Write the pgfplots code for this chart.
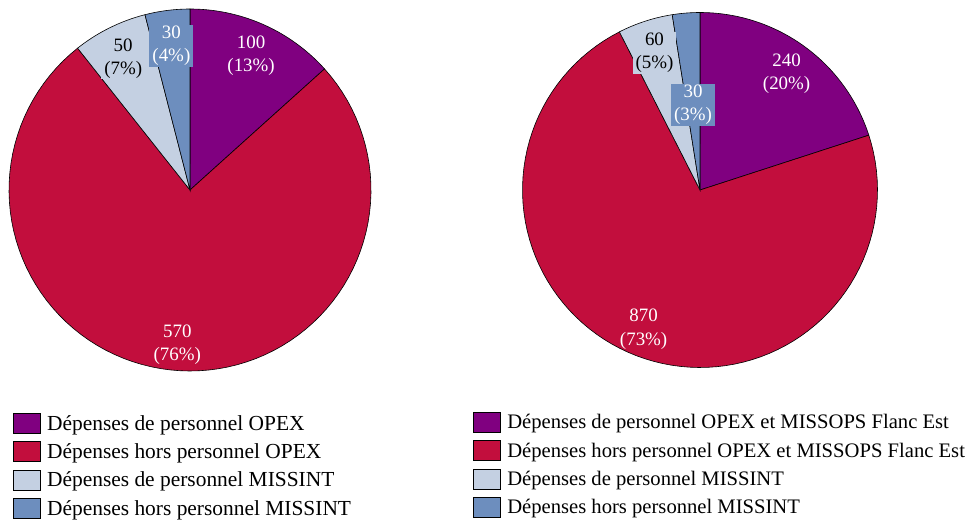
\documentclass[border=0pt]{standalone}
\usepackage{fontspec}
\setmainfont{Liberation Serif}
\usepackage{pgfplots}
\usepackage{pgfplotstable}
\pgfplotsset{compat=1.18}

\definecolor{cPurple}{HTML}{800080}
\definecolor{cRed}{HTML}{C20E3D}
\definecolor{cLight}{HTML}{C4D0E2}
\definecolor{cBlue}{HTML}{6D8EBE}

% values of the two pies (same slice order as the legends)
\pgfplotstableread{
val
100
570
50
30
}\leftdata
\pgfplotstableread{
val
240
870
60
30
}\rightdata

\newcommand{\getval}[3]{\pgfplotstablegetelem{#2}{val}\of{#1}\global\let#3\pgfplotsretval}

% angles: start at 12 o'clock, clockwise
\getval{\leftdata}{0}\La \getval{\leftdata}{1}\Lb
\getval{\leftdata}{2}\Lc \getval{\leftdata}{3}\Ld
\pgfmathsetmacro\Lt{\La+\Lb+\Lc+\Ld}
\pgfmathsetmacro\LA{90-360*(\La/\Lt)}
\pgfmathsetmacro\LB{\LA-360*(\Lb/\Lt)}
\pgfmathsetmacro\LC{\LB-360*(\Lc/\Lt)}
\pgfmathsetmacro\LD{\LC-360*(\Ld/\Lt)}

\getval{\rightdata}{0}\Ra \getval{\rightdata}{1}\Rb
\getval{\rightdata}{2}\Rc \getval{\rightdata}{3}\Rd
\pgfmathsetmacro\Rt{\Ra+\Rb+\Rc+\Rd}
\pgfmathsetmacro\RA{90-360*(\Ra/\Rt)}
\pgfmathsetmacro\RB{\RA-360*(\Rb/\Rt)}
\pgfmathsetmacro\RC{\RB-360*(\Rc/\Rt)}
\pgfmathsetmacro\RD{\RC-360*(\Rd/\Rt)}

\newcommand{\lblfont}{\fontsize{19}{23.5}\selectfont}

\pgfplotsset{
  pie/.style={
    hide axis, scale only axis, clip=false,
    xmin=-1, xmax=1, ymin=-1, ymax=1,
    anchor=origin,
    legend cell align=left,
    legend image code/.code={\draw[##1,draw=black,line width=0.8bp] (0bp,-10bp) rectangle (27bp,10bp);},
    legend style={draw=none, fill=none, anchor=north west, inner sep=0pt,
      row sep=7.5bp,
      nodes={inner sep=1.5bp},
      /tikz/every odd column/.append style={column sep=5bp}},
  },
  slice/.style={draw=black, line width=0.6bp, fill=#1, samples=90},
}
\newcommand{\lbl}[5]{% angle, radius, text colour, fill, text
  \node[font=\lblfont, text=#3, align=center, fill=#4, inner xsep=3bp, inner ysep=1bp, yshift=-3bp]
    at (axis cs:{#2*cos(#1)},{#2*sin(#1)}) {#5};}

\begin{document}
\begin{tikzpicture}
\useasboundingbox (0,0) rectangle (967bp,-522bp);

\begin{axis}[pie, at={(190bp,-190bp)}, width=362bp, height=362bp,
  legend style={at={(axis description cs:0.01,-0.116)}, font=\fontsize{21.5}{23}\selectfont}]
  \addplot[slice=cPurple, domain=\LA:90] ({cos(x)},{sin(x)}) -- (axis cs:0,0) -- cycle;
  \addlegendentry{Dépenses de personnel OPEX}
  \addplot[slice=cRed, domain=\LB:\LA] ({cos(x)},{sin(x)}) -- (axis cs:0,0) -- cycle;
  \addlegendentry{Dépenses hors personnel OPEX}
  \addplot[slice=cLight, domain=\LC:\LB] ({cos(x)},{sin(x)}) -- (axis cs:0,0) -- cycle;
  \addlegendentry{Dépenses de personnel MISSINT}
  \addplot[slice=cBlue, domain=\LD:\LC] ({cos(x)},{sin(x)}) -- (axis cs:0,0) -- cycle;
  \addlegendentry{Dépenses hors personnel MISSINT}
  \lbl{(90+\LA)/2}{0.83}{white}{none}{100\\(13\%)}
  \lbl{(\LA+\LB)/2}{0.84}{white}{none}{570\\(76\%)}
  \lbl{(\LB+\LC)/2}{0.83}{black}{cLight}{50\\(7\%)}
  \lbl{(\LC+\LD)/2}{0.82}{white}{cBlue}{30\\(4\%)}
\end{axis}

\begin{axis}[pie, at={(700bp,-190bp)}, width=355bp, height=355bp,
  legend style={at={(axis description cs:-0.14,-0.125)}, font=\fontsize{20.7}{23}\selectfont}]
  \addplot[slice=cPurple, domain=\RA:90] ({cos(x)},{sin(x)}) -- (axis cs:0,0) -- cycle;
  \addlegendentry{Dépenses de personnel OPEX et MISSOPS Flanc Est}
  \addplot[slice=cRed, domain=\RB:\RA] ({cos(x)},{sin(x)}) -- (axis cs:0,0) -- cycle;
  \addlegendentry{Dépenses hors personnel OPEX et MISSOPS Flanc Est}
  \addplot[slice=cLight, domain=\RC:\RB] ({cos(x)},{sin(x)}) -- (axis cs:0,0) -- cycle;
  \addlegendentry{Dépenses de personnel MISSINT}
  \addplot[slice=cBlue, domain=\RD:\RC] ({cos(x)},{sin(x)}) -- (axis cs:0,0) -- cycle;
  \addlegendentry{Dépenses hors personnel MISSINT}
  \lbl{(90+\RA)/2}{0.83}{white}{none}{240\\(20\%)}
  \lbl{(\RA+\RB)/2}{0.83}{white}{none}{870\\(73\%)}
  \lbl{(\RB+\RC)/2}{0.83}{black}{cLight}{60\\(5\%)}
  \lbl{(\RC+\RD)/2}{0.50}{white}{cBlue}{30\\(3\%)}
\end{axis}
\end{tikzpicture}
\end{document}
